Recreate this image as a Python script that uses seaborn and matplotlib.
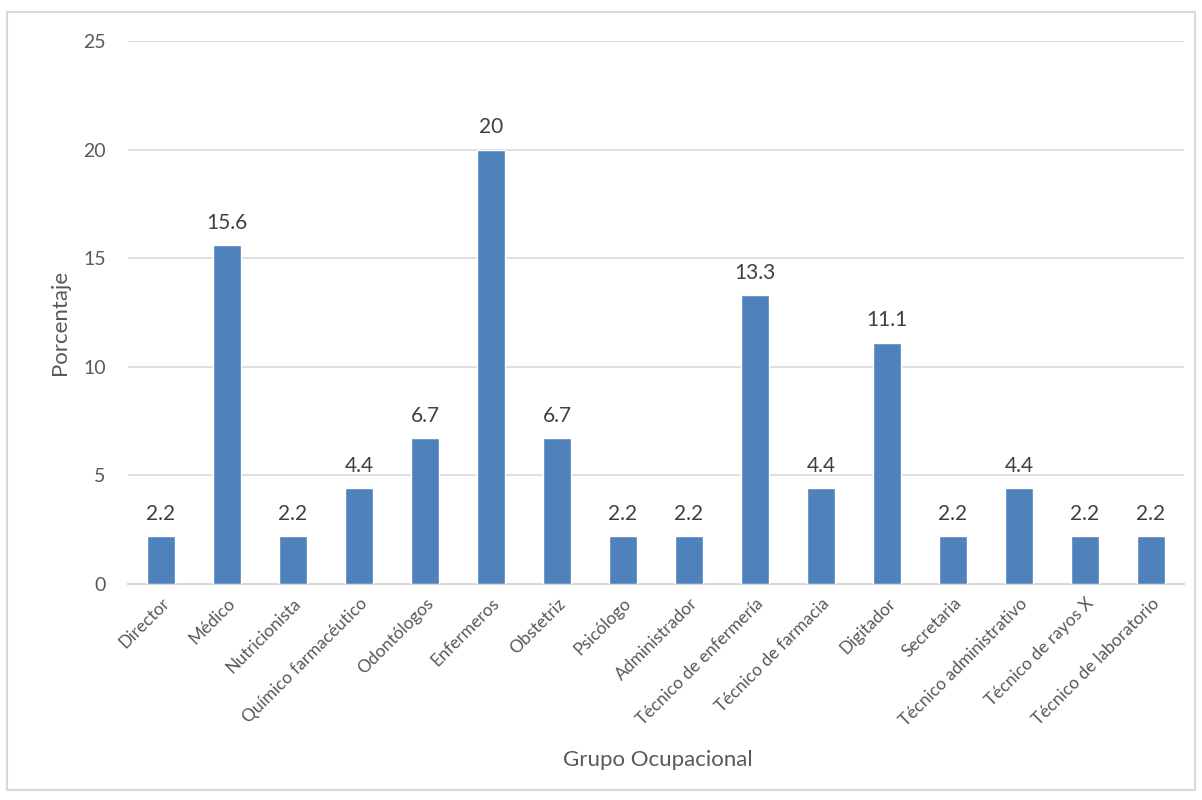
import matplotlib
matplotlib.use("Agg")
import matplotlib.pyplot as plt
import seaborn as sns
import pandas as pd
from matplotlib.patches import Rectangle

categories = ["Director", "Médico", "Nutricionista", "Químico farmacéutico", "Odontólogos",
              "Enfermeros", "Obstetriz", "Psicólogo", "Administrador", "Técnico de enfermería",
              "Técnico de farmacia", "Digitador", "Secretaria", "Técnico administrativo",
              "Técnico de rayos X", "Técnico de laboratorio"]
values = [2.2, 15.6, 2.2, 4.4, 6.7, 20, 6.7, 2.2, 2.2, 13.3, 4.4, 11.1, 2.2, 4.4, 2.2, 2.2]
labels = ["2.2", "15.6", "2.2", "4.4", "6.7", "20", "6.7", "2.2", "2.2", "13.3", "4.4", "11.1",
          "2.2", "4.4", "2.2", "2.2"]
yticks = [0, 5, 10, 15, 20, 25]

sns.set_style("white")
plt.rcParams['font.family'] = ['Lato', 'DejaVu Sans']

df = pd.DataFrame({"cat": categories, "val": values})

fig = plt.figure(figsize=(12.02, 8.0), dpi=100)
W = 1184 - 128
H = 584 - 41
ax = fig.add_axes([128/1202, 1-584/800, W/1202, H/800])

sns.barplot(data=df, x="cat", y="val", color="#4F81BD", saturation=1, width=0.42, ax=ax, zorder=3)

ax.set_ylim(0, 25)
ax.set_xlim(-0.5, len(categories)-0.5)
ax.set_yticks(yticks)
ax.set_yticklabels([str(t) for t in yticks], fontsize=14, color="#595959")
ax.tick_params(axis='y', length=0, pad=16)
ax.tick_params(axis='x', length=0, pad=8)
ax.set_xticks(range(len(categories)))
ax.set_xticklabels(categories, rotation=45, ha='right', rotation_mode='anchor', fontsize=12.5, color="#595959")
ax.grid(axis='y', color="#D9D9D9", linewidth=1.2, zorder=0)
for s in ["top", "right", "left"]:
    ax.spines[s].set_visible(False)
ax.spines["bottom"].set_color("#D9D9D9")
ax.spines["bottom"].set_linewidth(1.5)

for container in ax.containers:
    ax.bar_label(container, labels=labels, padding=9, fontsize=15, color="#404040")

ax.set_xlabel("Grupo Ocupacional", fontsize=16, color="#595959")
ax.set_ylabel("Porcentaje", fontsize=16, color="#595959")
ax.xaxis.set_label_coords((658-128)/W, -(750-584)/H)
ax.yaxis.set_label_coords((70-128)/W, (584-322)/H)

fig.patches.append(Rectangle((7/1202, 10/800), (1195-7)/1202, (788-10)/800, transform=fig.transFigure,
                             fill=False, edgecolor="#D9D9D9", linewidth=1.5))

fig.savefig("out.png", dpi=100)
